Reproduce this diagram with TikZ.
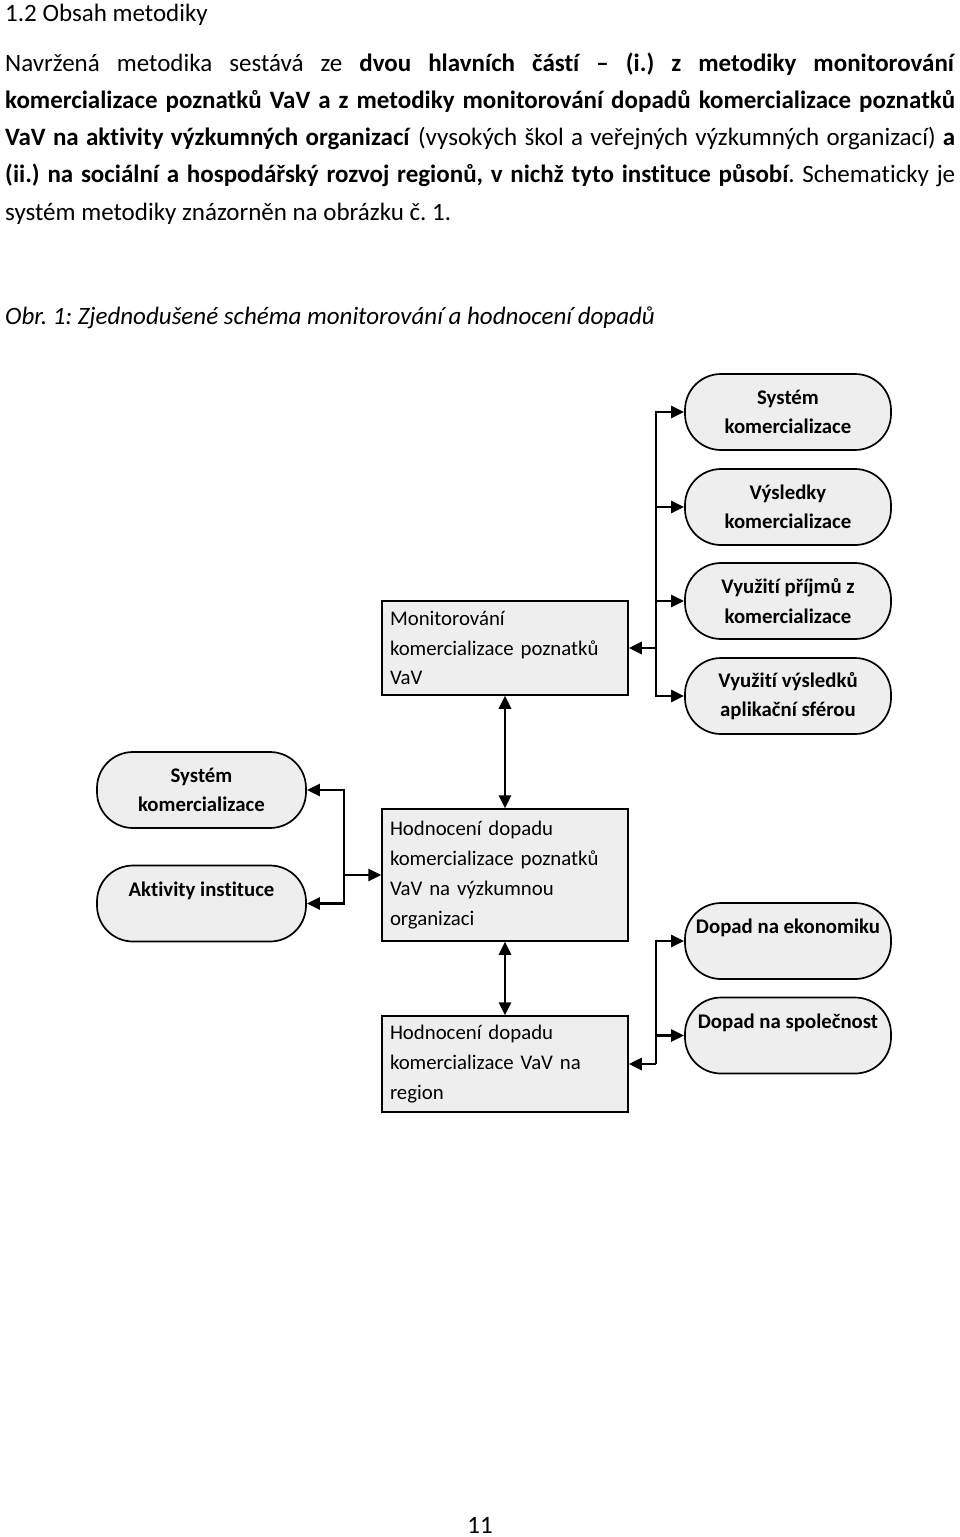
\documentclass[tikz,border=0pt]{standalone}
\usepackage{fontspec}
\setmainfont{Carlito}[Ligatures={NoCommon,NoContextual}]
\usetikzlibrary{arrows.meta}
\definecolor{boxfill}{RGB}{238,238,238}
\frenchspacing
\tikzset{
  body/.style={anchor=base west, inner sep=0pt, font=\fontsize{25}{37.5}\selectfont},
  rbox/.style={draw, line width=1.7pt, fill=boxfill, rounded corners=36pt, minimum width=206pt, minimum height=76pt, inner sep=2pt, align=center, font=\bfseries\fontsize{20.8}{29.5}\selectfont},
  sbox/.style={draw, line width=1.5pt, fill=boxfill, text width=230pt, inner xsep=8pt, inner ysep=2pt, minimum width=246pt, align=left, font=\fontsize{20.8}{29.8}\selectfont},
  arr/.style={line width=2.6pt, -{Triangle[length=13pt,width=12pt]}},
  darr/.style={line width=2.6pt, {Triangle[length=13pt,width=12pt]}-{Triangle[length=13pt,width=12pt]}},
}
\begin{document}
\frenchspacing
\begin{tikzpicture}[x=1pt,y=-1pt]
\fill[white] (0,0) rectangle (960,1537);
\useasboundingbox (0,0) rectangle (960,1537);

% text above the figure
\node[body] (head) at (5,21) {1.2 Obsah metodiky};
\node[body] (p1) at (5,71) {\makebox[950pt][s]{Navržená metodika sestává ze \textbf{dvou hlavních částí – (i.) z metodiky monitorování}}};
\node[body] (p2) at (5,108.3) {\makebox[950pt][s]{\textbf{komercializace poznatků VaV a z metodiky monitorování dopadů komercializace poznatků}}};
\node[body] (p3) at (5,145.6) {\makebox[950pt][s]{\textbf{VaV na aktivity výzkumných organizací} (vysokých škol a veřejných výzkumných organizací) \textbf{a}}};
\node[body] (p4) at (5,182.9) {\makebox[950pt][s]{\textbf{(ii.) na sociální a hospodářský rozvoj regionů, v nichž tyto instituce působí}. Schematicky je}};
\node[body] (p5) at (5,220.2) {systém metodiky znázorněn na obrázku č. 1.};
\node[body] (cap) at (5,324) {\itshape Obr. 1: Zjednodušené schéma monitorování a hodnocení dopadů};

% right column, top
\node[rbox] (r1) at (788,412) {Systém\\komercializace};
\node[rbox] (r2) at (788,507) {Výsledky\\komercializace};
\node[rbox] (r3) at (788,601) {Využití příjmů z\\komercializace};
\node[rbox] (r4) at (788,696) {Využití výsledků\\aplikační sférou};

% middle column
\node[sbox, minimum height=94pt] (mon) at (505,648) {Monitorování\\komercializace poznatků\\VaV};
\node[sbox, minimum height=132pt] (hod) at (505,875) {Hodnocení dopadu\\komercializace poznatků\\VaV na výzkumnou\\organizaci};
\node[sbox, minimum height=96pt] (reg) at (505,1064) {Hodnocení dopadu\\komercializace VaV na\\region};

% left column
\node[rbox, minimum width=209pt] (l1) at (201.5,790) {Systém\\komercializace};
\node[rbox, minimum width=209pt] (l2) at (201.5,903.5) {Aktivity instituce\\~};

% right column, bottom
\node[rbox] (e1) at (788,941) {Dopad na ekonomiku\\~};
\node[rbox] (e2) at (788,1035.5) {Dopad na společnost\\~};

% bracket points
\coordinate (bx) at (656,648);
\coordinate (lx) at (344,875);
\coordinate (bx2) at (656,1064);

% connectors
\draw[arr] (bx) |- (r1.west);
\draw[arr] (bx) |- (r2.west);
\draw[arr] (bx) |- (r3.west);
\draw[arr] (bx) |- (r4.west);
\draw[arr] (bx) -- (mon.east);

\draw[darr] (mon.south) -- (hod.north);
\draw[darr] (hod.south) -- (reg.north);

\draw[arr] (lx) |- (l1.east);
\draw[arr] (lx) |- (l2.east);
\draw[arr] (lx) -- (hod.west);

\draw[arr] (bx2) |- (e1.west);
\draw[arr] (bx2) |- (e2.west);
\draw[arr] (bx2) -- (reg.east);

% page number
\node[anchor=base, inner sep=0pt, font=\fontsize{25}{30}\selectfont] (pg) at (480,1533) {11};
\end{tikzpicture}
\end{document}
